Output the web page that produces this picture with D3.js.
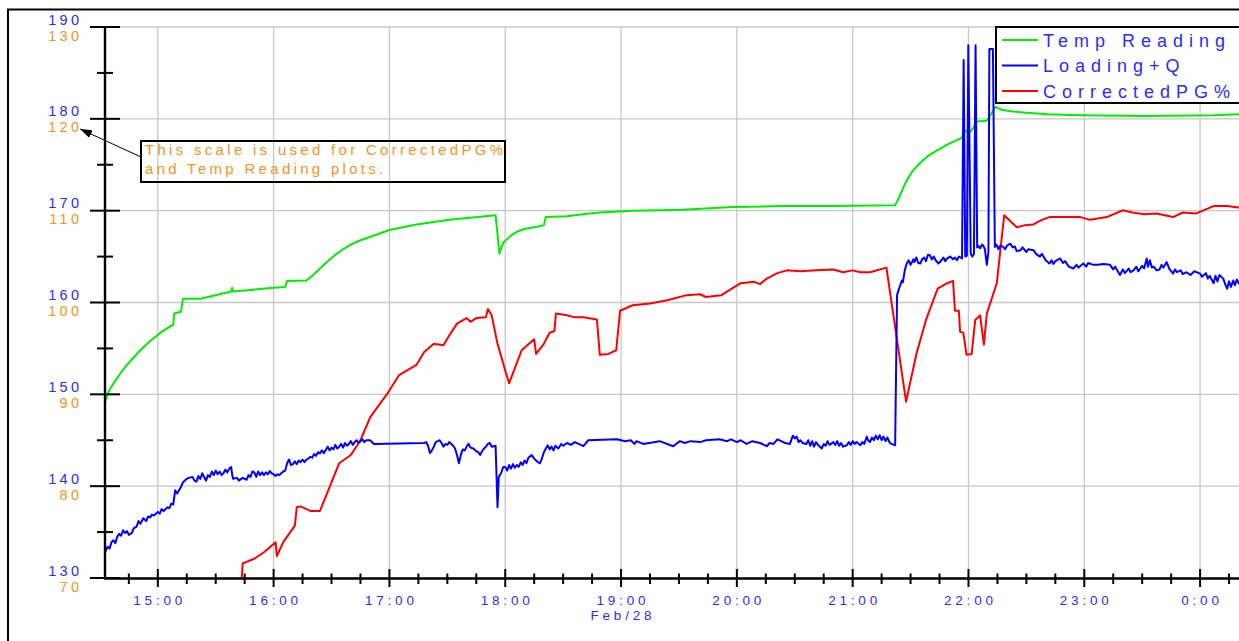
<!DOCTYPE html>
<html><head><meta charset="utf-8">
<script src="https://cdn.jsdelivr.net/npm/d3@7"></script>
<style>
html,body{margin:0;padding:0;background:#fff;}
svg{display:block;font-family:"Liberation Sans",Arial,sans-serif;}
</style></head>
<body><svg id="c" width="1239" height="641"></svg>
<script>
// ---------- data ----------
const seriesNames = ["Temp Reading", "Loading+Q", "CorrectedPG%"];
const seriesColors = ["#00ee00", "#0000ff", "#ff0000"];
const leftTicksBlue = [130, 140, 150, 160, 170, 180, 190];
const leftTicksOrange = [70, 80, 90, 100, 110, 120, 130];
const xTickLabels = ["15:00","16:00","17:00","18:00","19:00","20:00","21:00","22:00","23:00","0:00"];
const dateLabel = "Feb/28";

const tempReading = [
["14:32:36",89.2],["14:35",90.5],["14:38",91.5],["14:41",92.4],["14:44",93.2],["14:47",93.9],["14:50",94.6],
["14:53",95.2],["14:56",95.8],["14:59",96.3],["15:02",96.8],["15:05",97.2],["15:08",97.6],["15:08:30",98.8],
["15:12",99.0],["15:13",100.4],["15:22",100.4],["15:38",101.2],["15:38:30",101.6],["15:39",101.2],["16:00",101.6],
["16:06",101.7],["16:07",102.35],["16:17",102.4],["16:20",102.9],["16:24",103.7],["16:28",104.5],["16:32",105.2],
["16:36",105.8],["16:40",106.3],["16:44",106.7],["16:48",107.0],["16:52",107.3],["16:56",107.6],["17:00",107.9],
["17:07",108.2],["17:14",108.5],["17:31",109.0],["17:55",109.5],["17:57",105.3],["17:58",106.0],["17:59",106.5],
["18:01",106.9],["18:03",107.3],["18:06",107.7],["18:10",108.0],["18:15",108.2],["18:20",108.4],["18:21",109.3],
["18:32",109.4],["18:40",109.6],["18:49",109.8],["19:06",110.0],["19:32",110.1],["19:58",110.4],
["20:24",110.5],["20:50",110.5],["21:22",110.6],["21:24",111.4],["21:26",112.4],["21:28",113.3],["21:31",114.3],
["21:34",115.0],["21:37",115.6],["21:40",116.1],["21:44",116.6],["21:49",117.2],["21:53",117.6],
["21:56:30",117.9],["21:58",118.8],["22:00",118.4],["22:02:30",119.0],["22:04",119.7],["22:09:30",119.8],
["22:14",121.3],["22:17",121.0],["22:23",120.8],["22:30",120.65],["22:41",120.5],["22:58",120.4],["23:32",120.3],
["00:07",120.4],["00:20",120.5],["00:25",120.5]
];

const loadingQ = [
["14:32:36",132.8],["14:34",133.4],["14:35",133.2],["14:36",133.9],["14:37",134.1],["14:38",133.8],["14:39",134.5],
["14:40",134.8],["14:41",134.6],["14:42",135.2],["14:43",134.9],["14:44",135.1],["14:45",134.7],["14:46:30",134.9],
["14:47:30",135.4],["14:49",135.6],["14:50",136.2],["14:51",135.9],["14:52:30",136.5],["14:54",136.2],["14:55",136.7],
["14:56",136.6],["14:57",136.9],["14:58",136.8],["15:00",137.2],["15:01",137.0],["15:02",137.5],["15:03",137.3],
["15:05",137.7],["15:06",137.6],["15:07",138.1],["15:08",138.0],["15:09",139.55],["15:10",139.2],["15:12",139.9],
["15:13",140.4],["15:15",140.8],["15:16",140.9],["15:18",141.0],["15:19",140.6],["15:20",140.5],["15:21",141.1],
["15:22",140.8],["15:23",141.4],["15:24",141.0],["15:25",140.6],["15:26",141.2],["15:27",141.0],["15:28",141.6],
["15:29",141.2],["15:30",141.7],["15:31",141.3],["15:32",141.6],["15:33",141.2],["15:34",141.4],["15:35",141.8],
["15:36",141.5],["15:37",141.9],["15:38",142.1],["15:38:30",141.3],["15:39",140.8],["15:41",140.9],["15:42",140.6],
["15:44",140.9],["15:46",140.7],["15:47",141.2],["15:48",141.0],["15:49",141.6],["15:50",141.5],["15:51",141.0],
["15:52",141.6],["15:53",141.2],["15:54",141.5],["15:55",141.2],["15:56",141.5],["15:57",141.3],["15:58",141.65],
["15:59",141.4],["16:00",141.3],["16:01",141.1],["16:02",141.3],["16:03",141.2],["16:04",141.4],["16:05",141.6],
["16:06",141.7],["16:07",142.5],["16:08",142.9],["16:09",142.3],["16:10",142.4],["16:11",142.7],["16:12",142.4],
["16:13",142.8],["16:14",142.6],["16:15",142.9],["16:16",142.6],["16:17",142.9],["16:18",143.0],["16:19",143.2],
["16:20",143.1],["16:21",143.5],["16:22",143.3],["16:23",143.7],["16:24",143.55],["16:25",143.9],["16:26",143.6],
["16:27:30",144.1],["16:28",144.3],["16:29",143.9],["16:30",144.2],["16:31",144.0],["16:32",144.5],["16:33",144.1],
["16:34",144.3],["16:35",144.6],["16:36",144.2],["16:37",144.7],["16:38",144.4],["16:39",144.6],["16:40",144.9],
["16:41",144.5],["16:42",144.8],["16:43",145.0],["16:44",144.7],["16:45",144.9],["16:46",145.1],["16:47",144.8],
["16:48",145.0],["16:50",145.0],["16:52",144.6],["17:18",144.7],["17:19",144.8],["17:20",144.4],["17:21",143.6],
["17:22",143.9],["17:23",144.3],["17:24",144.8],["17:25",144.9],["17:26",145.0],["17:27",144.7],["17:28",144.3],
["17:29",144.6],["17:30",144.5],["17:31",144.8],["17:32",144.6],["17:33",144.4],["17:34",144.1],["17:35",143.4],
["17:36",142.5],["17:37",143.4],["17:38",144.0],["17:39",143.9],["17:40",144.3],["17:41",144.6],["17:42",144.2],
["17:43:30",144.1],["17:45",143.8],["17:46",143.7],["17:47",143.4],["17:48",143.8],["17:49",144.1],["17:50",144.3],
["17:51",144.6],["17:52",144.7],["17:53",144.3],["17:55",144.4],["17:56",137.7],["17:56:40",141.0],["17:58",141.5],
["17:59",142.1],["18:00",142.1],["18:01",141.7],["18:02",142.3],["18:03",141.9],["18:04",142.4],["18:05",142.0],
["18:06",142.3],["18:07",142.1],["18:08",142.6],["18:09",142.3],["18:10",142.8],["18:11",142.5],["18:12",143.1],
["18:13:40",143.4],["18:15",143.0],["18:16",142.8],["18:17",142.6],["18:18",142.5],["18:19",143.0],["18:20",143.7],
["18:22",144.45],["18:23",144.0],["18:24",144.3],["18:25",143.9],["18:26",144.4],["18:27:30",144.1],["18:29",144.6],
["18:30",144.4],["18:32",144.7],["18:34",144.5],["18:36",144.8],["18:38",144.6],["18:40:30",144.35],["18:43",145.0],
["18:58",145.1],["19:02",144.9],["19:05",145.0],["19:07",144.6],["19:08",144.9],["19:11:30",144.6],["19:20",144.9],
["19:27",144.35],["19:30:30",144.9],["19:33",144.7],["19:36",144.9],["19:41",144.8],["19:44",145.0],["19:51",145.1],
["19:55",144.9],["19:57",145.1],["20:00",144.8],["20:02",145.0],["20:05",144.6],["20:08",144.9],["20:12",144.7],
["20:15:30",144.35],["20:17",144.7],["20:19",144.6],["20:21",145.1],["20:23",144.9],["20:25",144.7],["20:27:30",144.6],
["20:29",145.5],["20:30",145.2],["20:31",145.4],["20:32",144.8],["20:33",145.0],["20:34",144.7],["20:36",144.6],
["20:37",145.0],["20:38",144.4],["20:39",144.9],["20:40",144.3],["20:41",144.8],["20:42",144.5],["20:44",144.1],
["20:45",144.6],["20:46",144.4],["20:47",144.9],["20:48",144.5],["20:50",144.8],["20:51",144.5],["20:52",144.9],
["20:53",144.4],["20:54",144.7],["20:55",144.3],["20:57",144.45],["20:58",144.8],["20:59",144.5],["21:00",144.9],
["21:01",144.6],["21:02",144.8],["21:04",144.45],["21:05",144.8],["21:06",144.6],["21:07:20",145.4],["21:08",145.0],
["21:09",144.8],["21:10",145.3],["21:11",145.0],["21:12",145.5],["21:13",145.1],["21:14",145.55],["21:15",145.0],
["21:16",145.4],["21:17",144.9],["21:18",145.3],["21:19",144.8],["21:20",144.6],["21:22",144.45],["21:23",160.8],
["21:24",161.5],["21:25:30",162.4],["21:26",162.2],["21:27",163.5],["21:28",164.25],["21:29",164.6],["21:30",164.1],
["21:31:30",164.7],["21:32",164.4],["21:33",164.9],["21:34",164.3],["21:35",164.25],["21:36",164.7],["21:37",164.9],
["21:38",164.5],["21:39",165.2],["21:40",165.15],["21:41",164.7],["21:42",165.0],["21:43",164.6],["21:44:30",164.25],
["21:46",164.6],["21:47",164.9],["21:48",164.5],["21:49",164.8],["21:50:30",165.0],["21:52",164.7],["21:53",164.9],
["21:54",164.6],["21:55",165.0],["21:56:40",164.8],["21:57:30",186.4],["21:58:20",165.0],["21:59:10",165.1],
["21:59:55",188.0],["22:01:10",165.3],["22:02",165.0],["22:02:50",165.3],["22:03:40",188.0],["22:04:30",166.0],
["22:05",166.2],["22:06",165.9],["22:07",166.3],["22:07:40",166.2],["22:08:30",165.8],["22:09:30",164.1],
["22:10:20",165.5],["22:10:50",187.6],["22:12:40",187.6],["22:13:40",166.05],["22:14:30",166.3],["22:15:30",165.8],
["22:16:30",166.2],["22:18",166.05],["22:19",165.8],["22:20",166.2],["22:21:40",166.4],["22:23",166.0],["22:24",166.1],
["22:25",165.6],["22:27",165.7],["22:28",166.0],["22:30",165.5],["22:31",165.8],["22:33:40",165.7],["22:35",165.3],
["22:37",165.0],["22:38",165.3],["22:40",164.6],["22:42",164.25],["22:43",164.6],["22:44",164.2],["22:45",164.5],
["22:47:30",164.8],["22:49",164.3],["22:50",164.5],["22:52",163.9],["22:54:20",163.7],["22:56",164.1],["22:57",163.8],
["22:59:30",164.25],["23:01",163.9],["23:02",164.3],["23:04:40",164.1],["23:07",164.1],["23:10",164.2],["23:13:20",164.1],
["23:15",163.6],["23:16",163.9],["23:18:30",163.0],["23:20",163.6],["23:21",163.2],["23:23",163.7],["23:24",163.3],
["23:25:30",163.5],["23:27",163.9],["23:28",163.4],["23:30",164.0],["23:31",163.7],["23:32:20",164.8],["23:33",163.9],
["23:34",164.6],["23:35",163.8],["23:36",163.9],["23:37:30",163.5],["23:39",163.6],["23:40",164.1],["23:41",163.8],
["23:42:40",164.4],["23:44",163.7],["23:46",163.15],["23:47",163.6],["23:48",163.3],["23:50",163.5],["23:51",163.1],
["23:53",163.3],["23:55",163.0],["23:57",163.4],["00:00",163.15],["00:01",162.8],["00:03",163.2],["00:04",162.6],
["00:05",162.9],["00:07",162.1],["00:08",162.9],["00:09",162.3],["00:10",163.0],["00:12",162.6],["00:13",162.0],
["00:14",161.5],["00:15",162.3],["00:16",161.7],["00:17:10",162.4],["00:18",161.9],["00:19",162.5],["00:20",162.1],["00:22",162.3]
];

const correctedPG = [
["15:43:26",69.9],["15:44",71.6],["15:50",72.1],["15:55",72.8],["16:01",73.9],["16:01:40",72.4],["16:05",73.9],
["16:11",75.7],["16:12",77.7],["16:14",77.8],["16:19",77.3],["16:24",77.3],["16:29",79.9],["16:34",82.5],["16:40",83.4],
["16:45",85.0],["16:50",87.5],["16:59",90.1],["17:05",92.1],["17:14",93.2],["17:18",94.6],["17:23",95.5],["17:28",95.35],
["17:31",96.4],["17:35",97.7],["17:40",98.3],["17:42",97.9],["17:45",98.3],["17:50",98.4],["17:51",99.3],["17:53",98.6],
["17:56",95.5],["18:00",92.6],["18:02",91.2],["18:08:30",94.8],["18:15",96.0],["18:16",94.4],["18:20",95.5],["18:23",96.7],
["18:25:30",96.9],["18:26:15",98.8],["18:32",98.6],["18:36",98.4],["18:40:30",98.4],["18:47:30",98.15],["18:49",94.3],
["18:53:30",94.4],["18:57:30",94.8],["18:59:30",99.1],["19:06",99.7],["19:15",99.9],["19:24",100.25],["19:34",100.8],
["19:41",100.9],["19:44",100.6],["19:52",100.8],["19:56:30",101.4],["20:02",102.1],["20:09",102.25],["20:12",102.0],
["20:15:30",102.6],["20:21",103.2],["20:26",103.5],["20:33",103.4],["20:41",103.5],["20:50",103.6],["20:55",103.3],
["21:00",103.5],["21:04",103.3],["21:09",103.3],["21:17:30",103.8],["21:27:40",89.2],["21:33",94.4],["21:38",98.1],
["21:44",101.5],["21:49",102.1],["21:52",102.35],["21:53",99.1],["21:55",99.1],["21:55:40",96.8],["21:57:20",96.7],
["21:59",94.3],["22:01:40",94.4],["22:03:30",98.1],["22:06",98.6],["22:08",95.4],["22:09:30",98.8],["22:14:40",102.1],
["22:18:30",109.5],["22:25",108.2],["22:29",108.4],["22:33:40",108.5],["22:38",109.0],["22:42",109.3],["22:50",109.3],
["22:58",109.3],["23:03",109.0],["23:11:40",109.3],["23:20",110.05],["23:25",109.8],["23:31",109.6],["23:37:30",109.7],
["23:46",109.3],["23:51",109.8],["23:58",109.7],["00:07",110.5],["00:14",110.5],["00:20",110.35],["00:25",110.4]
];

// ---------- setup ----------
const svg = d3.select("#c");
const BLUE = "#2b2bff", ORANGE = "#f7931e";
const parseClock = s => { const p = s.split(":").map(Number); const h = p[0];
  return new Date(2001, 1, h < 12 ? 29 : 28, h, p[1], p[2] || 0); };

const x = d3.scaleTime()
  .domain([parseClock("14:30"), parseClock("00:30")])
  .range([99.9, 1258]);
const yBlue = d3.scaleLinear().domain([130, 190]).range([578, 27]);
const yOrange = d3.scaleLinear().domain([70, 130]).range([578, 27]);
const X0 = 105, XR = 1258, Y0 = 578, YT = 27;

// outer frame
svg.append("rect").attr("x", 8).attr("y", 9.5).attr("width", 1300).attr("height", 700)
  .attr("fill", "none").attr("stroke", "#000").attr("stroke-width", 2);

// grid
const hourTicks = x.ticks(d3.timeHour.every(1)).filter(d => x(d) > X0);
const minorTicks = x.ticks(d3.timeMinute.every(15)).filter(d => x(d) > X0 && d.getMinutes() !== 0);
svg.append("g").selectAll("line").data(hourTicks).join("line")
  .attr("x1", d => x(d)).attr("x2", d => x(d)).attr("y1", YT).attr("y2", Y0)
  .attr("stroke", "#c8c8c8").attr("stroke-width", 1.3);
svg.append("g").selectAll("line").data(leftTicksOrange).join("line")
  .attr("x1", X0).attr("x2", XR).attr("y1", d => yOrange(d)).attr("y2", d => yOrange(d))
  .attr("stroke", "#c8c8c8").attr("stroke-width", 1.3);

// data lines
svg.append("defs").append("clipPath").attr("id", "clip")
  .append("rect").attr("x", X0).attr("y", 0).attr("width", 1300).attr("height", Y0 + 1);
const plot = svg.append("g").attr("clip-path", "url(#clip)");
const mk = (scale) => d3.line().x(d => x(parseClock(d[0]))).y(d => scale(d[1]));
plot.append("path").datum(tempReading).attr("d", mk(yOrange)).attr("fill", "none")
  .attr("stroke", seriesColors[0]).attr("stroke-width", 2).attr("stroke-linejoin", "round");
plot.append("path").datum(correctedPG).attr("d", mk(yOrange)).attr("fill", "none")
  .attr("stroke", seriesColors[2]).attr("stroke-width", 2).attr("stroke-linejoin", "round");
plot.append("path").datum(loadingQ).attr("d", mk(yBlue)).attr("fill", "none")
  .attr("stroke", seriesColors[1]).attr("stroke-width", 2).attr("stroke-linejoin", "round");

// y axis
svg.append("line").attr("x1", X0).attr("x2", X0).attr("y1", YT).attr("y2", Y0 + 1)
  .attr("stroke", "#000").attr("stroke-width", 2.4);
svg.append("g").selectAll("line").data(leftTicksOrange).join("line")
  .attr("x1", 90).attr("x2", 120).attr("y1", d => yOrange(d)).attr("y2", d => yOrange(d))
  .attr("stroke", "#000").attr("stroke-width", 2);
svg.append("g").selectAll("line").data(leftTicksOrange.slice(0, -1)).join("line")
  .attr("x1", 97).attr("x2", 113).attr("y1", d => yOrange(d + 5)).attr("y2", d => yOrange(d + 5))
  .attr("stroke", "#000").attr("stroke-width", 2);
const ls = 3.3;
svg.append("g").selectAll("text").data(leftTicksBlue).join("text")
  .attr("x", 79 + ls).attr("y", d => yBlue(d) - 2.5).attr("text-anchor", "end")
  .attr("font-size", 14.5).attr("fill", BLUE).style("letter-spacing", ls + "px").text(d => d);
svg.append("g").selectAll("text").data(leftTicksOrange).join("text")
  .attr("x", 79 + ls).attr("y", d => yOrange(d) + 13.5).attr("text-anchor", "end")
  .attr("font-size", 14.5).attr("fill", ORANGE).style("letter-spacing", ls + "px").text(d => d);

// x axis
svg.append("line").attr("x1", X0 - 1).attr("x2", XR).attr("y1", Y0 + 0.5).attr("y2", Y0 + 0.5)
  .attr("stroke", "#000").attr("stroke-width", 2.4);
svg.append("g").selectAll("line").data(hourTicks).join("line")
  .attr("x1", d => x(d)).attr("x2", d => x(d)).attr("y1", 569).attr("y2", 587)
  .attr("stroke", "#000").attr("stroke-width", 2);
svg.append("g").selectAll("line").data(minorTicks).join("line")
  .attr("x1", d => x(d)).attr("x2", d => x(d)).attr("y1", 573.5).attr("y2", 584)
  .attr("stroke", "#000").attr("stroke-width", 2);
const xls = 3.8;
svg.append("g").selectAll("text").data(hourTicks).join("text")
  .attr("x", d => x(d) + xls / 2).attr("y", 604.5).attr("text-anchor", "middle")
  .attr("font-size", 13.5).attr("fill", BLUE).style("letter-spacing", xls + "px")
  .text((d, i) => xTickLabels[i]);
svg.append("text").attr("x", x(parseClock("19:00")) + xls / 2).attr("y", 619.5).attr("text-anchor", "middle")
  .attr("font-size", 13.5).attr("fill", BLUE).style("letter-spacing", xls + "px").text(dateLabel);

// annotation
svg.append("defs").append("marker").attr("id", "arr").attr("viewBox", "0 0 10 10")
  .attr("refX", 10).attr("refY", 5).attr("markerWidth", 12).attr("markerHeight", 12)
  .attr("markerUnits", "userSpaceOnUse").attr("orient", "auto")
  .append("path").attr("d", "M0,1.5 L10,5 L0,8.5 Z").attr("fill", "#000");
svg.append("line").attr("x1", 141).attr("y1", 157).attr("x2", 80).attr("y2", 129)
  .attr("stroke", "#000").attr("stroke-width", 1).attr("marker-end", "url(#arr)");
svg.append("rect").attr("x", 141).attr("y", 141).attr("width", 364).attr("height", 41)
  .attr("fill", "none").attr("stroke", "#000").attr("stroke-width", 2);
const noteLines = ["This scale is used for CorrectedPG%", "and Temp Reading plots."];
svg.append("g").selectAll("text").data(noteLines).join("text")
  .attr("x", 145).attr("y", (d, i) => 154.5 + i * 19.5)
  .attr("font-size", 15).attr("fill", ORANGE).style("letter-spacing", "3.3px").text(d => d);

// legend
const lg = svg.append("g");
lg.append("rect").attr("x", 996).attr("y", 27).attr("width", 300).attr("height", 76)
  .attr("fill", "#fff").attr("stroke", "#000").attr("stroke-width", 2);
const legY = [40, 65.5, 91];
seriesNames.forEach((n, i) => {
  lg.append("line").attr("x1", 1002).attr("x2", 1038).attr("y1", legY[i]).attr("y2", legY[i])
    .attr("stroke", seriesColors[i]).attr("stroke-width", 2);
  lg.append("text").attr("x", 1043).attr("y", legY[i] + 6.5).attr("font-size", 18)
    .attr("fill", BLUE).style("letter-spacing", "6px").text(n);
});
</script></body></html>
